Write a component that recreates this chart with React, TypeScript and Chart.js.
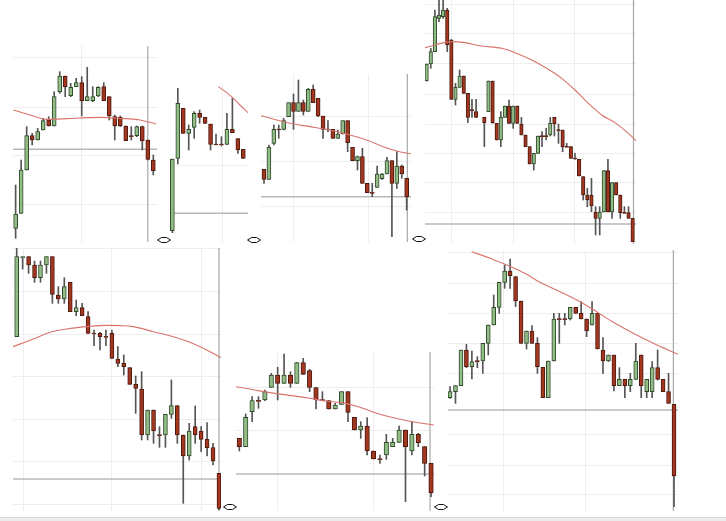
import React, { useEffect, useRef } from "react";
import { Chart, registerables } from "chart.js";

Chart.register(...registerables);

// Price units below; the axis runs downward (reverse: true).

// ---------- Panel 1 ----------
const p1Open = [565, 520, 390, 287, 300, 270, 240, 258, 155, 108, 167, 140, 128, 182, 182, 168, 140, 170, 230, 232, 258, 287, 287, 260, 300, 360];
const p1High = [435, 360, 260, 280, 265, 235, 230, 155, 95, 108, 130, 115, 110, 82, 140, 140, 128, 170, 225, 228, 258, 260, 258, 258, 300, 345];
const p1Low = [595, 520, 390, 315, 300, 270, 258, 258, 160, 170, 170, 140, 228, 182, 185, 170, 182, 240, 300, 260, 302, 300, 290, 330, 360, 405];
const p1Close = [522, 390, 287, 300, 275, 242, 258, 170, 108, 140, 142, 128, 182, 170, 170, 142, 182, 228, 258, 258, 302, 289, 260, 302, 358, 392];
const p1MaX = [-0.42, 3.2, 5.6, 9.3, 12.9, 15.3, 19.0, 22.6, 25.5];
const p1MaY = [210, 228, 238, 236, 233, 232, 235, 240, 252];

// ---------- Panel 2 ----------
const p2Open = [572, 355, 205, 280, 262, 220, 232, 252, 312, 312, 313, 268, 296, 328];
const p2High = [357, 145, 205, 255, 215, 210, 232, 252, 282, 290, 220, 175, 296, 328];
const p2Low = [578, 372, 280, 330, 295, 250, 250, 330, 315, 318, 313, 278, 340, 355];
const p2Close = [357, 190, 280, 268, 220, 232, 250, 313, 313, 313, 268, 278, 330, 355];
const p2MaX = [8.42, 9.95, 11.17, 12.39, 13.86];
const p2MaY = [140, 158, 175, 195, 218];

// ---------- Panel 3 ----------
const p3Open = [298, 328, 220, 177, 178, 140, 98, 124, 98, 124, 58, 85, 138, 177, 178, 205, 192, 152, 232, 272, 260, 340, 367, 352, 326, 312, 272, 340, 288, 325];
const p3High = [298, 225, 165, 165, 145, 98, 72, 30, 90, 55, 45, 85, 138, 152, 178, 180, 152, 152, 232, 258, 235, 340, 340, 288, 310, 262, 272, 245, 285, 325];
const p3Low = [340, 328, 225, 205, 180, 140, 178, 124, 135, 124, 98, 140, 205, 185, 205, 205, 192, 245, 272, 300, 340, 368, 380, 352, 328, 312, 500, 355, 325, 420];
const p3Close = [328, 232, 178, 179, 152, 98, 124, 98, 124, 58, 98, 138, 178, 179, 205, 192, 152, 218, 272, 260, 340, 368, 369, 312, 312, 272, 340, 288, 312, 380];
const p3MaX = [-0.61, 5.28, 9.35, 13.41, 17.48, 20.87, 24.25, 26.96, 29.88];
const p3MaY = [137, 160, 170, 180, 195, 210, 230, 243, 252];

// ---------- Panel 4 ----------
const p4Open = [243, 192, 155, 55, 50, 30, 120, 298, 262, 228, 280, 329, 335, null, 352, 335, 243, 370, 420, 352, 318, 370, 318, 372, 405, 440, 492, 460, 407, 407, 405, 352, 389, 390, 439, 440, 474, 478, 530, 585, 585, 636, 655, 636, 512, 636, 548, 585, 637, 638, 655];
const p4High = [192, 145, 30, 0, 0, 25, 118, 250, 210, 228, 280, 298, 298, null, 352, 243, 243, 370, 335, 318, 300, 318, 318, 352, 405, 440, 460, 408, 395, 385, 352, 352, 372, 390, 430, 440, 460, 478, 530, 565, 535, 620, 620, 512, 478, 548, 548, 585, 620, 620, 655];
const p4Low = [243, 205, 155, 65, 55, 155, 298, 315, 262, 280, 368, 352, 352, null, 440, 335, 370, 420, 440, 352, 370, 385, 370, 405, 440, 492, 510, 460, 440, 420, 408, 408, 430, 455, 440, 475, 478, 528, 600, 620, 635, 705, 705, 636, 636, 655, 585, 655, 640, 655, 725];
const p4Close = [192, 155, 50, 45, 30, 135, 298, 262, 228, 280, 352, 331, 352, null, 368, 243, 368, 420, 352, 318, 370, 318, 370, 405, 440, 492, 460, 408, 409, 409, 370, 372, 391, 440, 441, 475, 476, 528, 585, 600, 618, 655, 636, 512, 636, 548, 585, 638, 639, 655, 725];
const p4MaX = [-0.4, 6.07, 9.3, 13.35, 18.2, 21.44, 25.49, 29.53, 32.77, 36.0, 39.24, 42.48, 45.7, 48.95, 50.8];
const p4MaY = [143, 125, 128, 138, 145, 158, 180, 208, 235, 270, 310, 345, 368, 400, 422];

// ---------- Panel 5 ----------
const p5Open = [275, 37, 35, 60, 98, 60, 35, 150, 162, 112, 200, 188, 215, 264, 265, 274, 265, 342, 355, 368, 418, 432, 570, 495, 569, 570, 508, 482, 570, 633, 545, 558, 583, 608, 685];
const p5High = [10, 35, 35, 48, 48, 35, 35, 125, 98, 112, 165, 175, 200, 255, 262, 255, 255, 305, 330, 368, 393, 380, 495, 495, 545, 508, 405, 482, 570, 535, 483, 545, 533, 595, 685];
const p5Low = [275, 72, 85, 112, 112, 85, 175, 175, 175, 200, 212, 212, 265, 302, 315, 302, 340, 365, 390, 418, 505, 585, 585, 595, 607, 607, 520, 595, 775, 645, 595, 620, 633, 660, 795];
const p5Close = [35, 35, 60, 98, 60, 35, 148, 162, 125, 200, 188, 212, 265, 266, 275, 276, 340, 355, 365, 418, 430, 570, 495, 557, 571, 508, 482, 570, 633, 558, 570, 583, 608, 648, 790];
const p5MaX = [-0.62, 2.8, 5.6, 8.4, 11.76, 15.13, 17.37, 19.6, 22.97, 26.33, 29.13, 31.93, 34.34];
const p5MaY = [305, 282, 262, 252, 245, 241, 242, 245, 260, 275, 292, 315, 338];

// ---------- Panel 6 ----------
const p6Open = [295, 320, 215, 181, 180, 142, 105, 130, 105, 130, 68, 92, 143, 179, 182, 207, 193, 155, 232, 270, 258, 333, 356, 345, 320, 307, 270, 333, 283, 320, 370];
const p6High = [295, 222, 170, 170, 150, 100, 82, 42, 95, 68, 55, 88, 143, 155, 182, 190, 155, 155, 232, 245, 233, 333, 345, 283, 295, 258, 270, 245, 280, 320, 370];
const p6Low = [333, 320, 245, 205, 182, 142, 180, 130, 142, 130, 103, 155, 207, 182, 207, 207, 193, 245, 270, 295, 345, 357, 370, 358, 320, 307, 485, 345, 320, 408, 470];
const p6Close = [320, 232, 182, 183, 155, 105, 130, 105, 130, 68, 103, 142, 180, 181, 207, 195, 155, 217, 270, 258, 333, 357, 358, 307, 307, 270, 320, 283, 308, 370, 458];
const p6MaX = [-0.52, 2.97, 5.58, 8.19, 10.8, 13.41, 16.01, 18.62, 21.23, 23.84, 26.45, 30.46];
const p6MaY = [140, 152, 160, 167, 174, 183, 188, 200, 218, 232, 243, 255];

// ---------- Panel 7 ----------
const p7Open = [458, 440, 422, 315, 365, 347, 348, 295, 240, 187, 112, 78, 95, 168, 295, 258, 295, 367, 458, 348, 221, 221, 222, 187, 205, 222, 240, 205, 315, 348, 330, 422, 403, 422, 403, 330, 440, 440, 368, 403, 440, 478];
const p7High = [425, 422, 315, 298, 318, 335, 295, 240, 150, 112, 60, 42, 95, 168, 258, 242, 278, 367, 348, 205, 205, 205, 187, 187, 170, 222, 170, 205, 278, 330, 330, 368, 403, 385, 295, 330, 403, 350, 315, 403, 385, 478];
const p7Low = [460, 475, 422, 368, 402, 368, 385, 330, 240, 205, 130, 130, 185, 295, 312, 295, 385, 458, 458, 348, 295, 240, 225, 205, 222, 275, 240, 312, 385, 350, 438, 422, 458, 440, 403, 458, 458, 458, 405, 440, 475, 785];
const p7Close = [440, 422, 315, 365, 350, 349, 295, 240, 187, 112, 78, 92, 168, 295, 258, 295, 365, 458, 348, 222, 223, 223, 187, 205, 222, 258, 205, 312, 348, 330, 422, 403, 422, 403, 348, 422, 403, 368, 403, 440, 475, 693];
const p7MaX = [3.97, 7.32, 11.59, 14.03, 16.47, 20.13, 23.79, 26.85, 29.9, 33.56, 37.22, 41.73];
const p7MaY = [20, 40, 68, 88, 112, 140, 170, 200, 232, 265, 295, 328];

// Support levels, "now" markers and grid positions
const levels = [328, 520, 380, 672, 702, 402, 495];
const nowMarks: (number | null)[] = [24, null, 29.13, 50.2, 34.0, 29.84, 40.88];
const vGrids = [[12], [9.2], [6, 21.34], [6.07, 21.0, 35.8], [1.12, 15.97, 30.98], [6.0, 21.07], [9.76, 24.83]];
const hGrids = [
  [52, 203, 345, 493],
  [375],
  [140, 275, 408],
  [12, 100, 190, 283, 372, 460, 548, 638],
  [10, 140, 268, 395, 522, 650, 778],
  [142, 272],
  [22, 115, 205, 295, 385, 568, 660, 748],
];
const xRanges = [[-0.48, 25.67], [-0.43, 13.86], [-0.61, 29.88], [-0.4, 50.81], [-0.62, 34.34], [-0.52, 30.46], [-0.37, 41.73]];
const yRanges = [[18, 606], [135, 606], [12, 516], [0, 732], [9, 798], [36, 513], [15, 798]];

// Layout (positions/sizes in px)
const boxes = [
  { left: 13, top: 46, width: 144, height: 196, body: 4 },
  { left: 170, top: 85, width: 78, height: 157, body: 4 },
  { left: 261, top: 74, width: 150, height: 168, body: 4 },
  { left: 425, top: 0, width: 211, height: 244, body: 3.5 },
  { left: 13, top: 248, width: 208, height: 263, body: 4 },
  { left: 236, top: 352, width: 198, height: 159, body: 4.5 },
  { left: 448, top: 250, width: 230, height: 261, body: 4 },
];
const markerPos = [[157, 237], [247, 237], [412, 236], [223, 504], [434, 504]];

const GREEN = "#93bd86";
const GREEN_EDGE = "#2f4a2a";
const RED = "#a2361f";
const RED_EDGE = "#4d1a10";
const WICK = "#555555";
const MA = "#d8746c";
const LEVEL = "#b8b8b8";
const MARK = "#a8a8a8";
const GRID = "#eeeeee";

type Ohlc = { open: (number | null)[]; high: (number | null)[]; low: (number | null)[]; close: (number | null)[]; maX: number[]; maY: number[] };

const series: Ohlc[] = [
  { open: p1Open, high: p1High, low: p1Low, close: p1Close, maX: p1MaX, maY: p1MaY },
  { open: p2Open, high: p2High, low: p2Low, close: p2Close, maX: p2MaX, maY: p2MaY },
  { open: p3Open, high: p3High, low: p3Low, close: p3Close, maX: p3MaX, maY: p3MaY },
  { open: p4Open, high: p4High, low: p4Low, close: p4Close, maX: p4MaX, maY: p4MaY },
  { open: p5Open, high: p5High, low: p5Low, close: p5Close, maX: p5MaX, maY: p5MaY },
  { open: p6Open, high: p6High, low: p6Low, close: p6Close, maX: p6MaX, maY: p6MaY },
  { open: p7Open, high: p7High, low: p7Low, close: p7Close, maX: p7MaX, maY: p7MaY },
];

function CandlePanel({ n }: { n: number }) {
  const ref = useRef<HTMLCanvasElement | null>(null);
  const box = boxes[n];
  useEffect(() => {
    const canvas = ref.current;
    if (!canvas) return;
    const s = series[n];
    const [xMin, xMax] = xRanges[n];
    const [yMin, yMax] = yRanges[n];
    const idx = s.open.map((_, i) => i).filter((i) => s.open[i] !== null);
    const wicks = idx.map((i) => ({ x: i, y: [s.low[i], s.high[i]] }));
    const bodies = idx.map((i) => ({ x: i, y: [s.open[i], s.close[i]] }));
    const rising = idx.map((i) => (s.close[i] as number) <= (s.open[i] as number));
    const datasets: any[] = [
      {
        type: "line",
        data: [{ x: xMin, y: levels[n] }, { x: xMax, y: levels[n] }],
        borderColor: LEVEL,
        borderWidth: 1.5,
        pointRadius: 0,
        order: 6,
      },
    ];
    const m = nowMarks[n];
    if (m !== null) {
      datasets.push({
        type: "line",
        data: [{ x: m, y: yMin }, { x: m, y: yMax }],
        borderColor: MARK,
        borderWidth: 1.2,
        pointRadius: 0,
        order: 5,
      });
    }
    datasets.push({
      type: "bar",
      data: wicks,
      backgroundColor: WICK,
      barThickness: 1,
      grouped: false,
      order: 4,
    });
    datasets.push({
      type: "bar",
      data: bodies,
      backgroundColor: rising.map((r) => (r ? GREEN : RED)),
      borderColor: rising.map((r) => (r ? GREEN_EDGE : RED_EDGE)),
      borderWidth: 1,
      borderSkipped: false,
      barThickness: box.body,
      minBarLength: 1,
      grouped: false,
      order: 3,
    });
    datasets.push({
      type: "line",
      data: s.maX.map((x, i) => ({ x, y: s.maY[i] })),
      borderColor: MA,
      borderWidth: 1.1,
      pointRadius: 0,
      cubicInterpolationMode: "monotone",
      order: 1,
    });
    const chart = new Chart(canvas, {
      type: "bar",
      data: { datasets },
      options: {
        responsive: false,
        animation: false,
        events: [],
        layout: { padding: 0 },
        plugins: { legend: { display: false }, tooltip: { enabled: false } },
        scales: {
          x: {
            type: "linear",
            min: xMin,
            max: xMax,
            offset: false,
            ticks: { display: false },
            grid: { color: GRID, drawTicks: false, offset: false },
            border: { display: false },
            afterBuildTicks: (sc: any) => {
              sc.ticks = vGrids[n].map((v) => ({ value: v }));
            },
          },
          y: {
            type: "linear",
            reverse: true,
            min: yMin,
            max: yMax,
            ticks: { display: false },
            grid: { color: GRID, drawTicks: false },
            border: { display: false },
            afterBuildTicks: (sc: any) => {
              sc.ticks = hGrids[n].map((v) => ({ value: v }));
            },
          },
        },
      } as any,
    });
    return () => chart.destroy();
  }, [n]);
  return (
    <canvas
      ref={ref}
      width={box.width}
      height={box.height}
      style={{ position: "absolute", left: box.left, top: box.top, width: box.width, height: box.height }}
    />
  );
}

export default function App() {
  return (
    <div
      style={{
        position: "absolute",
        left: 0,
        top: 0,
        width: 726,
        height: 521,
        background: "#ffffff",
        overflow: "hidden",
        fontFamily: "DejaVu Sans, sans-serif",
      }}
    >
      {series.map((_, i) => (
        <CandlePanel key={i} n={i} />
      ))}
      {markerPos.map(([l, t], i) => (
        <svg key={"m" + i} width={14} height={6} style={{ position: "absolute", left: l, top: t }}>
          <polygon points="0.5,3 4.5,0.5 9.5,0.5 13.5,3 9.5,5.5 4.5,5.5" fill="none" stroke="#111" strokeWidth={1} />
        </svg>
      ))}
      <div
        style={{
          position: "absolute",
          left: 0,
          top: 517,
          width: 726,
          height: 4,
          background: "#ebebeb",
          borderTop: "1px solid #d9d9d9",
        }}
      />
    </div>
  );
}
